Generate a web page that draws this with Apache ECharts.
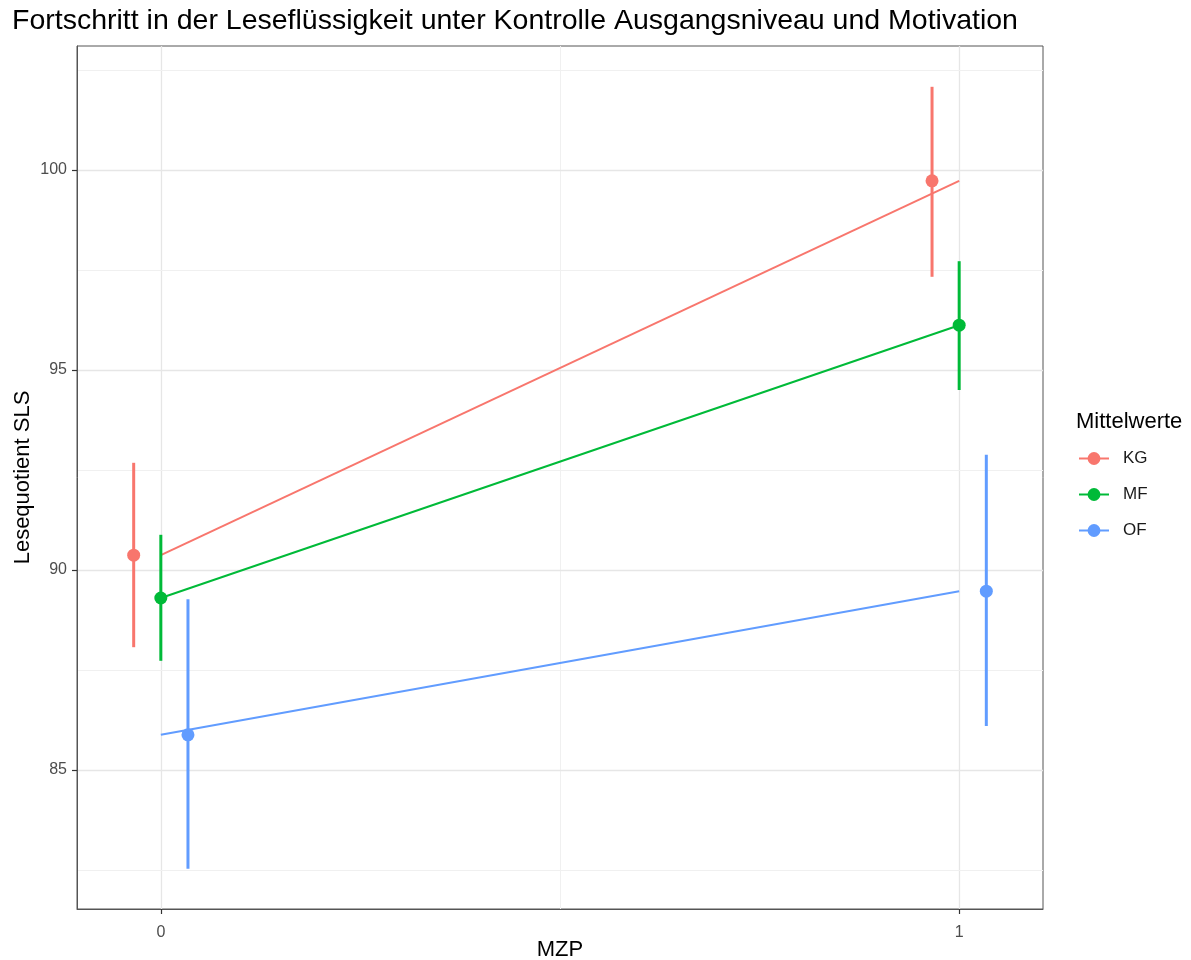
<!DOCTYPE html>
<html>
<head>
<meta charset="utf-8">
<script src="https://cdn.jsdelivr.net/npm/echarts@6/dist/echarts.min.js"></script>
<style>
  html, body { margin: 0; padding: 0; background: #fff; }
  #chart { width: 1191px; height: 960px; }
</style>
</head>
<body>
<div id="chart"></div>
<script>
// Messzeitpunkte und Gruppen
const times = [0, 1];
const groups = ["KG", "MF", "OF"];
const colors = ["#F8766D", "#00BA38", "#619CFF"];
const dodge = [-0.034, 0, 0.034]; // Versatz der Punkte pro Gruppe

// Mittelwerte und Fehlerbalken
const kgMean = [90.37, 99.73];
const kgLow = [88.07, 97.33];
const kgHigh = [92.68, 102.08];

const mfMean = [89.3, 96.12];
const mfLow = [87.73, 94.5];
const mfHigh = [90.88, 97.72];

const ofMean = [85.88, 89.47];
const ofLow = [82.53, 86.1];
const ofHigh = [89.27, 92.88];

// Achsen-Ticks
const xTicks = [0, 1];
const yTicks = [85, 90, 95, 100];
const xMinor = [0.5];
const yMinor = [82.5, 87.5, 92.5, 97.5, 102.5];

const means = [kgMean, mfMean, ofMean];
const lows = [kgLow, mfLow, ofLow];
const highs = [kgHigh, mfHigh, ofHigh];

const chart = echarts.init(document.getElementById("chart"));
const font = "Liberation Sans, Arial, Helvetica, sans-serif";

const series = [];

// Hintergrund-Gitter (wie ggplot theme_bw)
const major = { color: "#E6E6E6", width: 1.3, type: "solid" };
const minor = { color: "#F0F0F0", width: 1, type: "solid" };
series.push({
  type: "line",
  data: [],
  silent: true,
  z: 0,
  markLine: {
    silent: true,
    z: 0,
    symbol: "none",
    label: { show: false },
    animation: false,
    data: [
      ...xTicks.map((v) => ({ xAxis: v, lineStyle: major })),
      ...xMinor.map((v) => ({ xAxis: v, lineStyle: minor })),
      ...yTicks.map((v) => ({ yAxis: v, lineStyle: major })),
      ...yMinor.map((v) => ({ yAxis: v, lineStyle: minor })),
    ],
  },
});

groups.forEach((g, i) => {
  // Verbindungslinie 0 -> 1 (nicht versetzt)
  series.push({
    name: g,
    type: "line",
    data: times.map((t, k) => [t, means[i][k]]),
    symbol: "circle",
    symbolSize: 12,
    showSymbol: false,
    lineStyle: { color: colors[i], width: 2 },
    itemStyle: { color: colors[i] },
    z: 2,
  });
  // Fehlerbalken
  series.push({
    name: g,
    type: "custom",
    data: times.map((t, k) => [t + dodge[i], lows[i][k], highs[i][k]]),
    encode: { x: 0, y: [1, 2] },
    renderItem: (params, api) => {
      const p1 = api.coord([api.value(0), api.value(1)]);
      const p2 = api.coord([api.value(0), api.value(2)]);
      return {
        type: "line",
        shape: { x1: p1[0], y1: p1[1], x2: p2[0], y2: p2[1] },
        style: { stroke: colors[i], lineWidth: 3 },
      };
    },
    z: 3,
  });
  // Punkte
  series.push({
    name: g,
    type: "scatter",
    data: times.map((t, k) => [t + dodge[i], means[i][k]]),
    symbol: "circle",
    symbolSize: 13,
    itemStyle: { color: colors[i], opacity: 1 },
    z: 4,
  });
});

const option = {
  animation: false,
  backgroundColor: "#fff",
  textStyle: { fontFamily: font },
  title: [
    {
      text: "Fortschritt in der Leseflüssigkeit unter Kontrolle Ausgangsniveau und Motivation",
      left: 7,
      top: 2,
      textStyle: { fontSize: 28.5, fontWeight: "normal", color: "#000", fontFamily: font },
    },
    {
      text: "Mittelwerte",
      left: 1071,
      top: 406,
      textStyle: { fontSize: 22, fontWeight: "normal", color: "#000", fontFamily: font },
    },
  ],
  legend: {
    orient: "vertical",
    left: 1073,
    top: 445,
    itemWidth: 30,
    itemHeight: 16,
    itemGap: 19,
    data: groups,
    textStyle: { fontSize: 17, lineHeight: 16, color: "#1a1a1a", fontFamily: font, padding: [0, 0, 0, 9] },
    selectedMode: false,
  },
  grid: {
    left: 77,
    right: 148,
    top: 46,
    bottom: 51,
    containLabel: false,
    outerBoundsMode: "none",
    show: true,
    borderColor: "#555",
    borderWidth: 1,
    backgroundColor: "transparent",
  },
  xAxis: {
    type: "value",
    min: -0.105,
    max: 1.105,
    name: "MZP",
    nameLocation: "middle",
    nameGap: 30,
    nameMoveOverlap: false,
    nameTextStyle: { fontSize: 22, color: "#000", fontFamily: font },
    axisLine: { show: true, onZero: false, lineStyle: { color: "#555", width: 1 } },
    axisTick: { show: true, length: 5, customValues: xTicks, lineStyle: { color: "#333", width: 1.2 } },
    axisLabel: { customValues: xTicks, fontSize: 16, color: "#4D4D4D", margin: 16, fontFamily: font },
    splitLine: { show: false },
  },
  yAxis: {
    type: "value",
    min: 81.525,
    max: 103.1,
    name: "Lesequotient SLS",
    nameLocation: "middle",
    nameGap: 43,
    nameMoveOverlap: false,
    nameRotate: 90,
    nameTextStyle: { fontSize: 22, color: "#000", fontFamily: font },
    axisLine: { show: true, onZero: false, lineStyle: { color: "#555", width: 1 } },
    axisTick: { show: true, length: 5, customValues: yTicks, lineStyle: { color: "#333", width: 1.2 } },
    axisLabel: { customValues: yTicks, fontSize: 16, color: "#4D4D4D", margin: 10, fontFamily: font },
    splitLine: { show: false },
  },
  series: series,
};

chart.setOption(option);
</script>
</body>
</html>
